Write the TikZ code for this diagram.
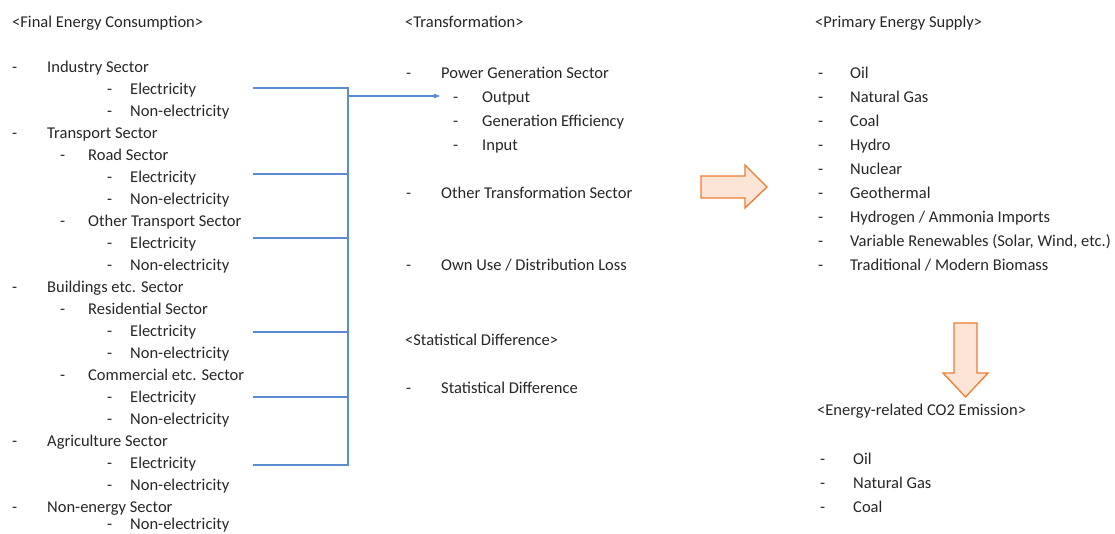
\documentclass[tikz,border=0pt]{standalone}
\usepackage{fontspec}
\setmainfont{Carlito}
\usetikzlibrary{arrows.meta}
\definecolor{txtc}{RGB}{38,38,38}
\definecolor{linec}{RGB}{91,139,208}
\definecolor{orangec}{RGB}{237,125,49}
\definecolor{orangefill}{RGB}{252,229,214}
\begin{document}
\begin{tikzpicture}[x=1pt,y=-1pt,
  txt/.style={anchor=base west,inner sep=0pt,text=txtc,font=\fontsize{16.5}{19}\selectfont},
  link/.style={draw=linec,line width=1.1pt},
  blockarrow/.style={draw=orangec,fill=orangefill,line width=1.3pt,line join=miter}]
\useasboundingbox (0,0) rectangle (1115,533);
% text baseline = visual centre + 5
% ---- left column ----
\node[txt] (fec) at (12,27) {<Final Energy Consumption>};
\foreach \y/\lvl/\t [count=\i] in {
  67/1/{Industry Sector}, 89/3/{Electricity}, 111/3/{Non-electricity},
  133/1/{Transport Sector}, 155/2/{Road Sector}, 177/3/{Electricity}, 199/3/{Non-electricity},
  221/2/{Other Transport Sector}, 243/3/{Electricity}, 265/3/{Non-electricity},
  287/1/{Buildings etc. Sector}, 309/2/{Residential Sector}, 331/3/{Electricity}, 353/3/{Non-electricity},
  375/2/{Commercial etc. Sector}, 397/3/{Electricity}, 419/3/{Non-electricity},
  441/1/{Agriculture Sector}, 463/3/{Electricity}, 485/3/{Non-electricity},
  507/1/{Non-energy Sector}, 524/3/{Non-electricity}}{
  \pgfmathsetmacro{\yb}{\y+5}
  \ifcase\lvl\or
    \node[txt] (ld\i) at (12,\yb) {-}; \node[txt] (l\i) at (47,\yb) {\t};
  \or
    \node[txt] (ld\i) at (60,\yb) {-}; \node[txt] (l\i) at (88,\yb) {\t};
  \or
    \node[txt] (ld\i) at (107,\yb) {-}; \node[txt] (l\i) at (130,\yb) {\t};
  \fi
}
% ---- middle column ----
\node[txt] (tr) at (405,27) {<Transformation>};
\node[txt] (pgd) at (406,78) {-};  \node[txt] (pg) at (441,78) {Power Generation Sector};
\node[txt] (outd) at (453,102) {-}; \node[txt] (out) at (482,102) {Output};
\node[txt] (ged) at (453,126) {-}; \node[txt] (ge) at (482,126) {Generation Efficiency};
\node[txt] (ind) at (453,150) {-}; \node[txt] (in) at (482,150) {Input};
\node[txt] (otd) at (406,198) {-}; \node[txt] (ot) at (441,198) {Other Transformation Sector};
\node[txt] (oud) at (406,270) {-}; \node[txt] (ou) at (441,270) {Own Use / Distribution Loss};
\node[txt] (sdh) at (405,345) {<Statistical Difference>};
\node[txt] (sdd) at (406,393) {-}; \node[txt] (sd) at (441,393) {Statistical Difference};
% ---- right column ----
\node[txt] (pes) at (815,27) {<Primary Energy Supply>};
\foreach \y/\t [count=\i] in {78/{Oil}, 102/{Natural Gas}, 126/{Coal}, 150/{Hydro}, 174/{Nuclear},
  198/{Geothermal}, 222/{Hydrogen / Ammonia Imports}, 246/{Variable Renewables (Solar, Wind, etc.)},
  270/{Traditional / Modern Biomass}}{
  \node[txt] (pd\i) at (818,\y) {-}; \node[txt] (p\i) at (850,\y) {\t};
}
\node[txt] (co) at (817,415) {<Energy-related CO2 Emission>};
\foreach \y/\t [count=\i] in {464/{Oil}, 488/{Natural Gas}, 512/{Coal}}{
  \node[txt] (cd\i) at (820,\y) {-}; \node[txt] (c\i) at (853,\y) {\t};
}
% ---- blue connectors ----
\coordinate (e1) at (253,88);
\coordinate (e2) at (253,174);
\coordinate (e3) at (253,238);
\coordinate (e4) at (253,332);
\coordinate (e5) at (253,397);
\coordinate (e6) at (253,465);
\coordinate (bus) at (348,96);
\coordinate (tip) at (441,96);
\draw[link] (e1) -| (348,465) -- (e6);
\foreach \k in {2,3,4,5}{ \draw[link] (e\k) -- (348,0 |- e\k); }
\draw[link,-{Latex[length=7pt,width=5pt]}] (bus) -- (tip);
% ---- orange block arrows ----
\draw[blockarrow] (701,176) -- (745,176) -- (745,165) -- (767,187) -- (745,208) -- (745,198) -- (701,198) -- cycle;
\draw[blockarrow] (954,323) -- (977,323) -- (977,373) -- (988,373) -- (965.5,397) -- (943,373) -- (954,373) -- cycle;
\end{tikzpicture}
\end{document}
